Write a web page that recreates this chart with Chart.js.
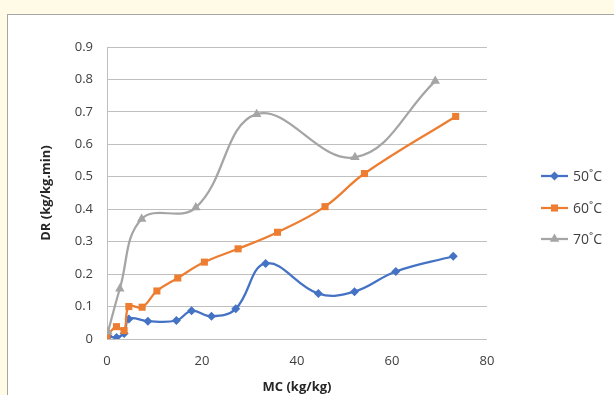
<!DOCTYPE html>
<html lang="en">
<head>
  <meta charset="UTF-8">
  <title>Drying Rate vs Moisture Content</title>
  <script src="https://cdn.jsdelivr.net/npm/chart.js"></script>
  <style>
    body {
      margin: 0;
      background: #fffbe6;
      font-family: 'Open Sans', sans-serif;
      overflow: hidden;
    }

    .frame {
      position: absolute;
      left: 7px;
      top: 14px;
      width: 640px;
      height: 420px;
      background: #fff;
      border: 1px solid #a6a6a6;
    }

    #drChart {
      position: absolute;
      left: 0;
      top: 0;
    }
  </style>
</head>
<body>

  <div class="frame"></div>
  <canvas id="drChart" width="614" height="395"></canvas>

  <script>
    // moisture content (kg/kg) and drying rate (kg/kg.min) per temperature
    const mc50 = [0.3, 2.0, 3.6, 4.6, 8.6, 14.6, 17.8, 22.0, 27.1, 33.4, 44.5, 52.1, 60.8, 72.9];
    const dr50 = [0.008, 0.005, 0.017, 0.062, 0.055, 0.057, 0.087, 0.07, 0.093, 0.233, 0.14, 0.146, 0.208, 0.255];

    const mc60 = [0, 2.0, 3.6, 4.6, 7.4, 10.5, 14.9, 20.5, 27.6, 35.9, 45.9, 54.2, 73.4];
    const dr60 = [0.01, 0.038, 0.026, 0.1, 0.098, 0.148, 0.188, 0.237, 0.278, 0.329, 0.408, 0.51, 0.686];

    const mc70 = [0.2, 2.7, 7.3, 18.7, 31.5, 52.2, 69.1];
    const dr70 = [0.022, 0.155, 0.37, 0.405, 0.693, 0.56, 0.795];

    const seriesLabels = ['50˚C', '60˚C', '70˚C'];
    const seriesColors = ['#4472c4', '#ed7d31', '#a5a5a5'];
    const markerStyles = ['rectRot', 'rect', 'triangle'];

    const toPoints = (xs, ys) => xs.map((x, i) => ({ x: x, y: ys[i] }));

    const allData = [toPoints(mc50, dr50), toPoints(mc60, dr60), toPoints(mc70, dr70)];
    const markerSizes = [4.5, 5, 5.5];

    const datasets = allData.map((pts, i) => ({
      label: seriesLabels[i],
      data: pts,
      borderColor: seriesColors[i],
      backgroundColor: seriesColors[i],
      borderWidth: 2.25,
      pointStyle: markerStyles[i],
      pointRadius: markerSizes[i],
      pointBorderWidth: 0,
      tension: 0.4,
      order: 3 - i
    }));

    // legend drawn like the Excel one: short line with marker in the middle
    const sideLegend = {
      id: 'sideLegend',
      afterDraw(chart) {
        const ctx = chart.ctx;
        const rows = [176, 208, 239];
        ctx.save();
        datasets.forEach((ds, i) => {
          const y = rows[i];
          ctx.strokeStyle = ds.borderColor;
          ctx.lineWidth = 2.25;
          ctx.beginPath();
          ctx.moveTo(541, y);
          ctx.lineTo(568, y);
          ctx.stroke();
          ctx.fillStyle = ds.borderColor;
          Chart.helpers.drawPoint(ctx, {
            pointStyle: ds.pointStyle,
            radius: ds.pointRadius,
            rotation: 0,
            borderWidth: 0
          }, 554.5, y);
          ctx.fillStyle = '#404040';
          ctx.font = '14px "Open Sans", sans-serif';
          ctx.textBaseline = 'middle';
          ctx.fillText(ds.label, 573, y + 1);
        });
        ctx.restore();
      }
    };

    new Chart(document.getElementById('drChart'), {
      type: 'line',
      data: { datasets },
      options: {
        responsive: false,
        animation: false,
        layout: { padding: { left: 0, top: 47, right: 127, bottom: 0 } },
        plugins: {
          legend: { display: false },
          tooltip: { enabled: false }
        },
        scales: {
          x: {
            type: 'linear',
            min: 0,
            max: 80,
            ticks: {
              stepSize: 20,
              padding: 14,
              color: '#404040',
              font: { family: 'Open Sans', size: 13 }
            },
            grid: { display: false, drawTicks: false },
            border: { display: false },
            title: {
              display: true,
              text: 'MC (kg/kg)',
              color: '#262626',
              font: { family: 'Open Sans', size: 13, weight: 'bold' },
              padding: { top: 0, bottom: 0 }
            },
            afterFit(scale) { scale.height = 56; }
          },
          y: {
            min: 0,
            max: 0.9,
            ticks: {
              stepSize: 0.1,
              padding: 14,
              color: '#404040',
              font: { family: 'Open Sans', size: 13 },
              callback: v => Math.round(v * 10) / 10
            },
            grid: { color: '#bfbfbf', lineWidth: 1, drawTicks: false },
            border: { display: true, color: '#bfbfbf' },
            title: {
              display: true,
              text: 'DR (kg/kg.min)',
              color: '#262626',
              font: { family: 'Open Sans', size: 13, weight: 'bold' },
              padding: { top: 38, bottom: 0 }
            },
            afterFit(scale) { scale.width = 107; }
          }
        }
      },
      plugins: [sideLegend]
    });
  </script>

</body>
</html>
